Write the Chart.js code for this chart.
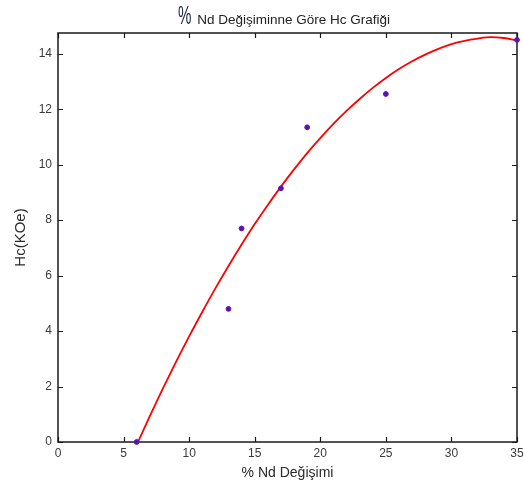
<!DOCTYPE html>
<html>
<head>
<meta charset="utf-8">
<script src="https://cdn.jsdelivr.net/npm/chart.js@4/dist/chart.umd.min.js"></script>
<style>
  html, body { margin: 0; padding: 0; background: #fff; }
  #wrap { width: 524px; height: 488px; }
</style>
</head>
<body>
<div id="wrap"><canvas id="hc-chart"></canvas></div>
<script>
// measured points
const ndPercent = [6, 13, 14, 17, 19, 25, 35];
const hcValues = [0, 4.8, 7.7, 9.15, 11.35, 12.55, 14.5];

// fitted curve
const fitX = [6.1, 7, 8, 9, 10, 11, 12, 13, 14, 15, 16, 17, 18, 19, 20, 21, 22, 23, 24, 25, 26, 27, 28, 29, 30, 31, 32, 33, 34, 35];
const fitY = [0, 0.93, 1.93, 2.89, 3.81, 4.69, 5.54, 6.35, 7.12, 7.86, 8.55, 9.21, 9.83, 10.42, 10.96, 11.47, 11.94, 12.37, 12.77, 13.13, 13.45, 13.73, 13.97, 14.18, 14.35, 14.47, 14.55, 14.6, 14.57, 14.48];

const xTicks = [0, 5, 10, 15, 20, 25, 30, 35];
const yTicks = [0, 2, 4, 6, 8, 10, 12, 14];

const titleBig = '%';
const titleRest = 'Nd Değişiminne Göre Hc Grafiği';

// box around plot + inward tick marks on all four sides
const frame = {
    id: 'frame',
    beforeDatasetsDraw(chart) {
        const { ctx, chartArea: a, scales } = chart;
        ctx.save();
        ctx.strokeStyle = '#1a1a1a';
        ctx.lineWidth = 1.5;
        ctx.strokeRect(a.left, a.top, a.right - a.left, a.bottom - a.top);
        ctx.lineWidth = 1.2;
        ctx.beginPath();
        scales.x.ticks.forEach(t => {
            const px = Math.round(scales.x.getPixelForValue(t.value)) + 0.5;
            ctx.moveTo(px, a.bottom); ctx.lineTo(px, a.bottom - 5);
            ctx.moveTo(px, a.top); ctx.lineTo(px, a.top + 5);
        });
        scales.y.ticks.forEach(t => {
            const py = Math.round(scales.y.getPixelForValue(t.value)) + 0.5;
            ctx.moveTo(a.left, py); ctx.lineTo(a.left + 5, py);
            ctx.moveTo(a.right, py); ctx.lineTo(a.right - 5, py);
        });
        ctx.stroke();
        ctx.restore();
    },
    afterDraw(chart) {
        // title with the oversized percent sign
        const ctx = chart.ctx;
        ctx.save();
        ctx.font = '13.5px "Liberation Sans", Arial, sans-serif';
        const wRest = ctx.measureText(titleRest).width;
        ctx.font = '26px "Liberation Sans", Arial, sans-serif';
        const wBig = ctx.measureText(titleBig).width * 0.58;
        const total = wBig + 6 + wRest;
        const x0 = 284 - total / 2;
        ctx.fillStyle = '#1c2340';
        ctx.translate(x0, 24);
        ctx.scale(0.58, 1);
        ctx.fillText(titleBig, 0, 0);
        ctx.restore();
        ctx.save();
        ctx.fillStyle = '#222';
        ctx.font = '13.5px "Liberation Sans", Arial, sans-serif';
        ctx.fillText(titleRest, x0 + wBig + 6, 24);
        ctx.restore();
    }
};

const tickFont = { family: '"Liberation Sans", Arial, sans-serif', size: 12 };

new Chart(document.getElementById('hc-chart'), {
    type: 'scatter',
    data: {
        datasets: [
            {
                label: 'Ölçüm',
                data: ndPercent.map((x, i) => ({ x: x, y: hcValues[i] })),
                backgroundColor: '#5a12b4',
                borderColor: '#5a12b4',
                pointRadius: 2.4,
                pointHoverRadius: 2.4,
                clip: false
            },
            {
                label: 'Fit',
                data: fitX.map((x, i) => ({ x: x, y: fitY[i] })),
                showLine: true,
                borderColor: '#ff0000',
                borderWidth: 1.8,
                pointRadius: 0,
                cubicInterpolationMode: 'monotone',
                clip: false
            }
        ]
    },
    options: {
        responsive: true,
        maintainAspectRatio: false,
        animation: false,
        layout: { padding: { top: 33, right: 7, left: 0, bottom: 0 } },
        plugins: {
            legend: { display: false },
            title: { display: false },
            tooltip: { enabled: false }
        },
        scales: {
            x: {
                type: 'linear',
                min: 0,
                max: 35,
                afterBuildTicks: s => { s.ticks = xTicks.map(v => ({ value: v })); },
                afterFit: s => { s.height = 46; s.paddingLeft = 0; s.paddingRight = 0; },
                grid: { display: false, drawTicks: false },
                border: { display: false },
                ticks: { color: '#3a3a3a', font: tickFont, padding: 4, maxRotation: 0 },
                title: {
                    display: true,
                    text: '% Nd Değişimi',
                    color: '#2a2a2a',
                    font: { family: '"Liberation Sans", Arial, sans-serif', size: 14 },
                    padding: { top: 0, bottom: 6 }
                }
            },
            y: {
                type: 'linear',
                min: 0,
                max: 14.75,
                afterBuildTicks: s => { s.ticks = yTicks.map(v => ({ value: v })); },
                afterFit: s => { s.width = 58; s.paddingTop = 0; s.paddingBottom = 0; },
                grid: { display: false, drawTicks: false },
                border: { display: false },
                ticks: { color: '#3a3a3a', font: tickFont, padding: 6 },
                title: {
                    display: true,
                    text: 'Hc(KOe)',
                    color: '#2a2a2a',
                    font: { family: '"Liberation Sans", Arial, sans-serif', size: 15 },
                    padding: { top: 12, bottom: 0 }
                }
            }
        }
    },
    plugins: [frame]
});
</script>
</body>
</html>
